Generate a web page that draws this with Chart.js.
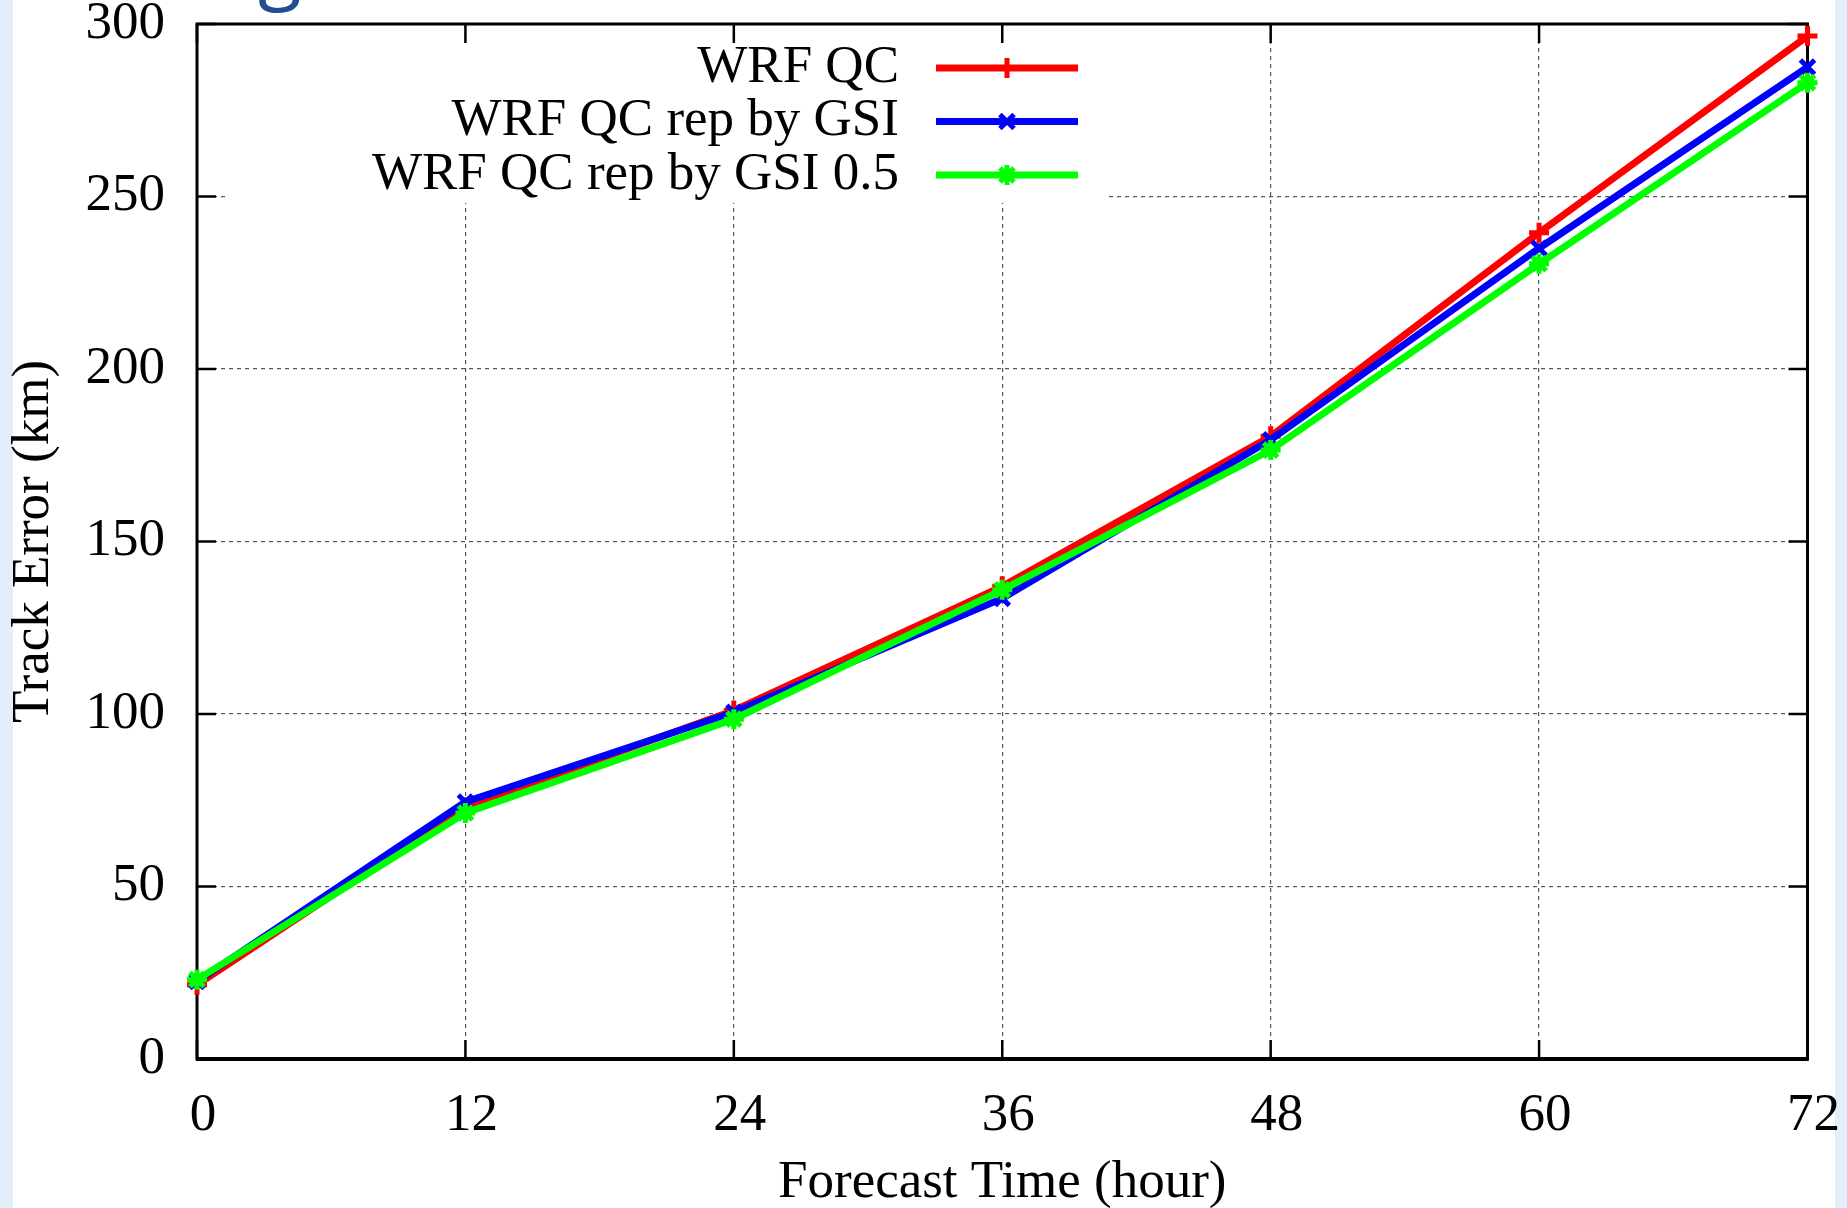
<!DOCTYPE html>
<html>
<head>
<meta charset="utf-8">
<title>Track Error</title>
<script src="https://cdn.jsdelivr.net/npm/chart.js@4.4.1/dist/chart.umd.min.js"></script>
<style>
  html, body { margin: 0; padding: 0; }
  body { width: 1847px; height: 1208px; overflow: hidden; background: #e2eef9; position: relative; }
  #paper { position: absolute; left: 13px; top: 0; width: 1822px; height: 1208px; background: #fff; }
  #slideTitle { position: absolute; left: 258px; top: -77px; font-family: "Open Sans"; font-size: 80px; line-height: 1; color: #1f4f8f; }
  #wrap { position: absolute; left: 0; top: -40px; width: 1859px; height: 1290px; }
</style>
</head>
<body>
<div id="paper"></div>
<div id="slideTitle">g</div>
<div id="wrap"><canvas id="myChart" width="1859" height="1290"></canvas></div>
<script>
// data
const hours = [0, 12, 24, 36, 48, 60, 72];
const wrfQc = [21.5, 73, 101, 137, 180.5, 239.5, 296.5];
const wrfQcGsi = [22.5, 74.5, 100.5, 133.5, 179.5, 235, 287.5];
const wrfQcGsi05 = [23, 71.3, 98.5, 136, 176.5, 230.5, 283];
const seriesNames = ['WRF QC', 'WRF QC rep by GSI', 'WRF QC rep by GSI 0.5'];
const seriesColors = ['#ff0000', '#0000ff', '#00ff00'];
const seriesMarks = ['cross', 'crossRot', 'star'];

const serif = '"Liberation Serif", "Times New Roman", serif';

function toPoints(vals) {
    return hours.map(function(h, i) { return {x: h, y: vals[i]}; });
}

// white key box (hides grid), frame and inward ticks like gnuplot
const frameTicks = {
    id: 'frameTicks',
    beforeDatasetsDraw(chart) {
        const ctx = chart.ctx;
        const a = chart.chartArea;
        const xs = chart.scales.x;
        const ys = chart.scales.y;
        ctx.save();
        ctx.fillStyle = '#fff';
        ctx.fillRect(a.left + 28, a.top + 2, 882, 177);

        ctx.strokeStyle = '#000';
        ctx.lineWidth = 2.5;
        const tl = 19;
        ctx.beginPath();
        xs.ticks.forEach(function(t) {
            const px = xs.getPixelForValue(t.value);
            ctx.moveTo(px, a.bottom); ctx.lineTo(px, a.bottom - tl);
            ctx.moveTo(px, a.top); ctx.lineTo(px, a.top + tl);
        });
        ys.ticks.forEach(function(t) {
            const py = ys.getPixelForValue(t.value);
            ctx.moveTo(a.left, py); ctx.lineTo(a.left + tl, py);
            ctx.moveTo(a.right, py); ctx.lineTo(a.right - tl, py);
        });
        ctx.stroke();

        ctx.lineWidth = 3;
        ctx.strokeRect(a.left, a.top, a.right - a.left, a.bottom - a.top);
        ctx.lineWidth = 4;
        ctx.beginPath();
        ctx.moveTo(a.left - 1, a.bottom); ctx.lineTo(a.right + 1, a.bottom);
        ctx.stroke();
        ctx.restore();
    },
    afterDatasetsDraw(chart) {
        // key, right aligned text with line sample
        const ctx = chart.ctx;
        const a = chart.chartArea;
        ctx.save();
        ctx.font = '53px ' + serif;
        ctx.textAlign = 'right';
        ctx.textBaseline = 'middle';
        chart.data.datasets.forEach(function(ds, i) {
            const y = a.top + 44 + i * 53.5;
            ctx.fillStyle = '#000';
            ctx.fillText(ds.label, a.left + 702, y);
            ctx.strokeStyle = ds.borderColor;
            ctx.fillStyle = ds.borderColor;
            ctx.lineWidth = 7;
            ctx.beginPath();
            ctx.moveTo(a.left + 739, y); ctx.lineTo(a.left + 881, y);
            ctx.stroke();
            ctx.lineWidth = 5;
            Chart.helpers.drawPoint(ctx, {pointStyle: ds.pointStyle, radius: 10, rotation: 0, borderWidth: 5}, a.left + 810, y);
        });
        ctx.restore();
    }
};

const ctx = document.getElementById('myChart');
const myChart = new Chart(ctx, {
    type: 'line',
    data: {
        datasets: [wrfQc, wrfQcGsi, wrfQcGsi05].map(function(vals, i) {
            return {
                label: seriesNames[i],
                data: toPoints(vals),
                borderColor: seriesColors[i],
                backgroundColor: seriesColors[i],
                pointStyle: seriesMarks[i],
                order: 2 - i,
                clip: false
            };
        })
    },
    options: {
        responsive: false,
        animation: false,
        layout: { padding: { left: 0, right: 0, top: 64, bottom: 0 } },
        elements: {
            line: { borderWidth: 7, tension: 0 },
            point: { radius: 10, borderWidth: 5, hoverRadius: 10 }
        },
        plugins: {
            legend: { display: false },
            tooltip: { enabled: false }
        },
        scales: {
            x: {
                type: 'linear',
                min: 0,
                max: 72,
                afterFit: function(scale) { scale.height = 191; },
                ticks: {
                    stepSize: 12,
                    color: '#000',
                    padding: 25,
                    labelOffset: 6,
                    maxRotation: 0,
                    font: { family: serif, size: 53, lineHeight: 1.2 }
                },
                grid: { color: '#555', lineWidth: 1.2, drawTicks: false },
                border: { display: false, dash: [4, 4] },
                title: {
                    display: true,
                    text: 'Forecast Time (hour)',
                    color: '#000',
                    padding: { top: 0, bottom: 35 },
                    font: { family: serif, size: 53, lineHeight: 1.2 }
                }
            },
            y: {
                min: 0,
                max: 300,
                afterFit: function(scale) { scale.width = 197; },
                ticks: {
                    stepSize: 50,
                    color: '#000',
                    padding: 32,
                    font: { family: serif, size: 53, lineHeight: 1.2 }
                },
                grid: { color: '#555', lineWidth: 1.2, drawTicks: false },
                border: { display: false, dash: [4, 4] },
                title: {
                    display: true,
                    text: 'Track Error (km)',
                    color: '#000',
                    padding: { top: 2, bottom: 0 },
                    font: { family: serif, size: 53, lineHeight: 1.2 }
                }
            }
        }
    },
    plugins: [frameTicks]
});
</script>
</body>
</html>
